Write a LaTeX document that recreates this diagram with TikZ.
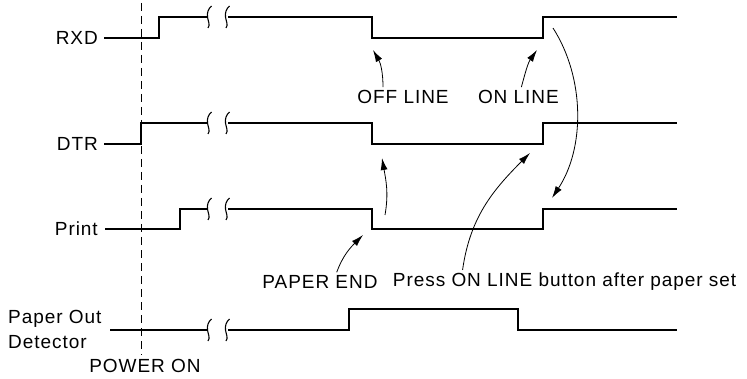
\documentclass[tikz,border=0pt]{standalone}
\usepackage{fontspec}
\setmainfont{Liberation Sans}[LetterSpace=5]
\usetikzlibrary{positioning, arrows.meta}

\newcommand\skipmark[2]{%
  \draw[line width=1.1pt] (#1+2.5,#2+11) .. controls (#1-1,#2+8) and (#1-2,#2+4) .. (#1-1.5,#2)
    .. controls (#1-1,#2-4) and (#1+1.5,#2-8) .. (#1-1,#2-11);}

\begin{document}
\begin{tikzpicture}[x=1pt, y=1pt,
    lbl/.style={inner sep=0pt, font=\fontsize{19}{25}\selectfont},
    sig/.style={line width=1.5pt},
    note/.style={line width=0.8pt, -{Latex[length=12pt, width=7pt]}}]
  \useasboundingbox (0,0) rectangle (747,378);

  % signal names
  \node[lbl, anchor=east] (rxd) at (98,340) {RXD};
  \node[lbl, anchor=east] (dtr) at (98,234) {DTR};
  \node[lbl, anchor=east] (prn) at (98,149) {Print};
  \node[lbl, anchor=west, align=left] (pod) at (8,48.5) {Paper Out\\Detector};

  % power on marker
  \draw[line width=1pt, dash pattern=on 8pt off 5pt] (141,375) -- (141,23);
  \node[lbl] (poweron) at (145,12) {POWER ON};

  % waveforms
  \draw[sig] ([xshift=6pt]rxd.east) -- (159,340) |- (208,361);
  \draw[sig] (228,361) -- (372,361) |- (543,340) |- (677,361);
  \draw[sig] ([xshift=6pt]dtr.east) -- (141,234) |- (208,255);
  \draw[sig] (228,255) -- (372,255) |- (543,234) |- (677,255);
  \draw[sig] ([xshift=7pt]prn.east) -- (180,149) |- (208,169);
  \draw[sig] (228,169) -- (372,169) |- (543,149) |- (677,169);
  \draw[sig] (110,48) -- (208,48);
  \draw[sig] (228,48) -- (349,48) |- (518,69) |- (677,48);
  \foreach \y in {361,255,169,48} {\skipmark{209}{\y} \skipmark{227}{\y}}

  % events
  \node[lbl] (offline) at (403,281) {OFF LINE};
  \node[lbl, right=29pt of offline] (online) {ON LINE};
  \node[lbl] (paperend) at (320,96) {PAPER END};
  \node[lbl, right=15pt of paperend] (press) {Press ON LINE button after paper set};

  \coordinate (offtip) at (373,328);
  \coordinate (ontip) at (537,328);
  \coordinate (dtrtip) at (382,220);
  \coordinate (risetip) at (530,225);
  \coordinate (endtip) at (363,143);
  \coordinate (rxdrise) at (553,350);
  \coordinate (prntip) at (552,180);
  \coordinate (prndrop) at (385,163);

  \draw[note] ([xshift=-20pt, yshift=3pt]offline.north) to[out=90, in=-60] (offtip);
  \draw[note] ([xshift=3pt, yshift=3pt]online.north) to[out=75, in=235] (ontip);
  \draw[note] ([xshift=-41pt, yshift=3pt]paperend.north east) to[out=70, in=225] (endtip);
  \draw[note] ([xshift=-102pt, yshift=3pt]press.north) to[out=82, in=225] (risetip);
  \draw[note] (prndrop) to[out=80, in=-80] (dtrtip);
  \draw[note] (rxdrise) .. controls (585,300) and (585,230) .. (prntip);
\end{tikzpicture}
\end{document}
